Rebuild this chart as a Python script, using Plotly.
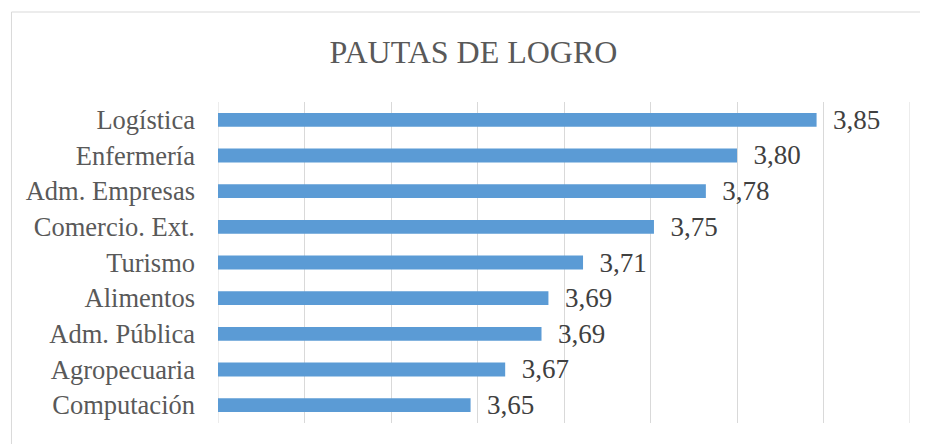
import plotly.graph_objects as go

categories = ["Logística", "Enfermería", "Adm. Empresas", "Comercio. Ext.", "Turismo",
              "Alimentos", "Adm. Pública", "Agropecuaria", "Computación"]
values = [3.846, 3.800, 3.782, 3.752, 3.711, 3.691, 3.687, 3.666, 3.646]
x_min, x_max = 3.5, 3.9

OFF = 8  # page body margin
W, H = 928 - OFF, 444 - OFF
L, R, T, B = 218.4 - OFF, 18, 102 - OFF, 21
pw, ph = W - L - R, H - T - B

fig = go.Figure(go.Bar(
    x=values, y=categories, orientation="h",
    marker=dict(color="#5B9BD5", line=dict(width=0)),
    texttemplate="\u00a0\u00a0%{x:.2f}", textposition="outside",
    textfont=dict(family="Liberation Serif", size=27, color="#404040"),
    cliponaxis=False, constraintext="none",
))

edge_lines = [dict(type="line", xref="x", yref="paper", x0=v, x1=v, y0=0, y1=1,
                   line=dict(color="#d9d9d9", width=1), layer="below")
              for v in (x_min, x_max)]

fig.update_layout(
    width=W, height=H,
    margin=dict(l=L, r=R, t=T, b=B, autoexpand=False),
    paper_bgcolor="white", plot_bgcolor="white",
    separators=",.",
    bargap=0.61,
    showlegend=False,
    title=dict(text="PAUTAS DE LOGRO", x=(473.5 - OFF) / W, xanchor="center",
               y=1 - (52 - OFF) / H, yanchor="middle",
               font=dict(family="Liberation Serif", size=32, color="#595959")),
    xaxis=dict(range=[x_min, x_max], dtick=0.05, tick0=x_min, showticklabels=False,
               showgrid=True, gridcolor="#d9d9d9", gridwidth=1,
               zeroline=False, showline=False, ticks=""),
    yaxis=dict(categoryorder="array", categoryarray=categories, autorange="reversed",
               showgrid=False, zeroline=False, showline=False, ticks="",
               ticklabelstandoff=22,
               tickfont=dict(family="Liberation Serif", size=26.5, color="#595959")),
    shapes=[dict(type="rect", xref="paper", yref="paper",
                 x0=(12 - OFF - L) / pw, x1=(W + 20 - L) / pw,
                 y0=-(B + 20) / ph, y1=(H - (12 - OFF) - B) / ph,
                 line=dict(color="#d9d9d9", width=1), fillcolor="rgba(0,0,0,0)",
                 layer="below")] + edge_lines,
)

fig.write_html("out.html")
